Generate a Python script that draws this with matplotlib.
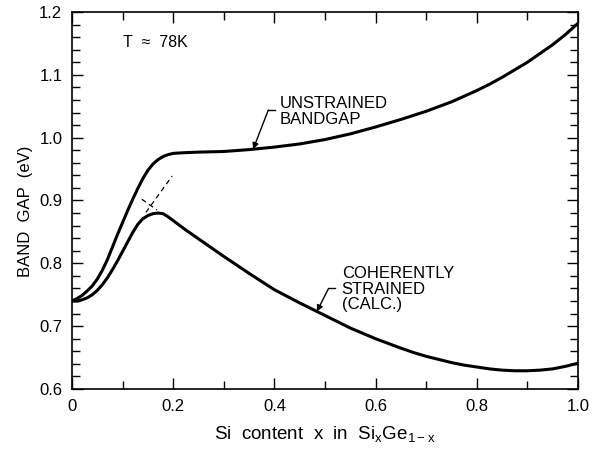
import numpy as np
import matplotlib
matplotlib.use("Agg")
import matplotlib.pyplot as plt
from matplotlib.ticker import MultipleLocator, FixedLocator

plt.rcParams['font.family'] = ['Liberation Sans', 'DejaVu Sans']
plt.rcParams['mathtext.fontset'] = 'custom'
plt.rcParams['mathtext.rm'] = 'Liberation Sans'

# values
unstrained_x = [0.0, 0.01, 0.02, 0.03, 0.04, 0.05, 0.06, 0.07, 0.08, 0.09, 0.10,
                0.11, 0.12, 0.13, 0.14, 0.15, 0.16, 0.17, 0.18, 0.19, 0.20,
                0.22, 0.25, 0.30, 0.35, 0.40, 0.45, 0.50, 0.55, 0.60, 0.65,
                0.70, 0.75, 0.80, 0.825, 0.85, 0.875, 0.90, 0.925, 0.95, 0.975, 1.00]
unstrained_y = [0.740, 0.744, 0.749, 0.756, 0.764, 0.775, 0.789, 0.806, 0.826, 0.846, 0.865,
                0.884, 0.902, 0.919, 0.935, 0.948, 0.958, 0.965, 0.970, 0.973, 0.975,
                0.976, 0.977, 0.978, 0.981, 0.985, 0.990, 0.997, 1.006, 1.017, 1.029,
                1.042, 1.057, 1.075, 1.085, 1.096, 1.108, 1.120, 1.134, 1.148, 1.164, 1.182]

strained_x = [0.0, 0.01, 0.02, 0.03, 0.04, 0.05, 0.06, 0.07, 0.08, 0.09, 0.10,
              0.11, 0.12, 0.13, 0.14, 0.15, 0.16, 0.17, 0.18, 0.19, 0.20,
              0.225, 0.25, 0.30, 0.35, 0.40, 0.45, 0.50, 0.55, 0.60, 0.65,
              0.675, 0.70, 0.725, 0.75, 0.775, 0.80, 0.825, 0.85, 0.875, 0.90,
              0.925, 0.95, 0.975, 1.00]
strained_y = [0.740, 0.740, 0.742, 0.745, 0.750, 0.757, 0.766, 0.777, 0.790, 0.804, 0.819,
              0.834, 0.849, 0.862, 0.871, 0.876, 0.879, 0.880, 0.879, 0.874, 0.868,
              0.853, 0.839, 0.811, 0.784, 0.758, 0.737, 0.717, 0.697, 0.680, 0.665,
              0.658, 0.652, 0.647, 0.642, 0.638, 0.635, 0.632, 0.630, 0.629, 0.629,
              0.630, 0.632, 0.636, 0.641]

# dashed extrapolations near the strained peak
dash_rise_x = [0.146, 0.198]
dash_rise_y = [0.881, 0.939]
dash_fall_x = [0.138, 0.168]
dash_fall_y = [0.902, 0.885]

x_ticks = [0, 0.2, 0.4, 0.6, 0.8, 1.0]
x_ticklabels = ['0', '0.2', '0.4', '0.6', '0.8', '1.0']
y_ticks = [0.6, 0.7, 0.8, 0.9, 1.0, 1.1, 1.2]
y_ticklabels = ['0.6', '0.7', '0.8', '0.9', '1.0', '1.1', '1.2']

fig = plt.figure(figsize=(5.93, 4.53), dpi=100)
ax = fig.add_axes([0.1214, 0.1413, 0.8533, 0.8322])

ax.plot(unstrained_x, unstrained_y, color='black', lw=2.2,
        solid_capstyle='round', solid_joinstyle='round')
ax.plot(strained_x, strained_y, color='black', lw=2.2,
        solid_capstyle='round', solid_joinstyle='round')
ax.plot(dash_rise_x, dash_rise_y, color='black', lw=0.9, dashes=(4, 3))
ax.plot(dash_fall_x, dash_fall_y, color='black', lw=0.9, dashes=(4, 3))

ax.set_xlim(0, 1.0)
ax.set_ylim(0.6, 1.2)
ax.xaxis.set_major_locator(FixedLocator(x_ticks))
ax.set_xticklabels(x_ticklabels)
ax.xaxis.set_minor_locator(MultipleLocator(0.1))
ax.yaxis.set_major_locator(FixedLocator(y_ticks))
ax.set_yticklabels(y_ticklabels)
ax.yaxis.set_minor_locator(MultipleLocator(0.02))
ax.tick_params(which='both', direction='in', top=True, right=True, width=1.0)
ax.tick_params(which='major', length=8, labelsize=12, pad=7)
ax.tick_params(which='minor', length=5.5)
for s in ax.spines.values():
    s.set_linewidth(1.2)

ax.set_xlabel(r'Si  content  x  in  Si$_{\mathregular{x}}$Ge$_{\mathregular{1-x}}$',
              fontsize=13.5, labelpad=8)
ax.set_ylabel('BAND  GAP  (eV)', fontsize=12)
ax.yaxis.set_label_coords(-0.077, 0.47)

ax.text(0.10, 1.151, 'T  \u2248  78K', fontsize=11.5, va='center')

# unstrained label with kinked arrow
u_tip = 0.358
ax.plot([0.388, 0.401], [1.044, 1.044], color='black', lw=1)
ax.annotate('', xy=(u_tip, np.interp(u_tip, unstrained_x, unstrained_y)),
            xytext=(0.388, 1.044),
            arrowprops=dict(arrowstyle='-|>', color='black', lw=1,
                            mutation_scale=9, shrinkA=0, shrinkB=0))
ax.text(0.411, 1.042, 'UNSTRAINED\nBANDGAP', fontsize=12, va='center',
        linespacing=1.05)

# strained label with kinked arrow
s_tip = 0.484
ax.plot([0.507, 0.520], [0.760, 0.760], color='black', lw=1)
ax.annotate('', xy=(s_tip, np.interp(s_tip, strained_x, strained_y)),
            xytext=(0.507, 0.760),
            arrowprops=dict(arrowstyle='-|>', color='black', lw=1,
                            mutation_scale=9, shrinkA=0, shrinkB=0))
ax.text(0.533, 0.759, 'COHERENTLY\nSTRAINED\n(CALC.)', fontsize=12, va='center',
        linespacing=1.05)

fig.savefig('out.png', dpi=100)
